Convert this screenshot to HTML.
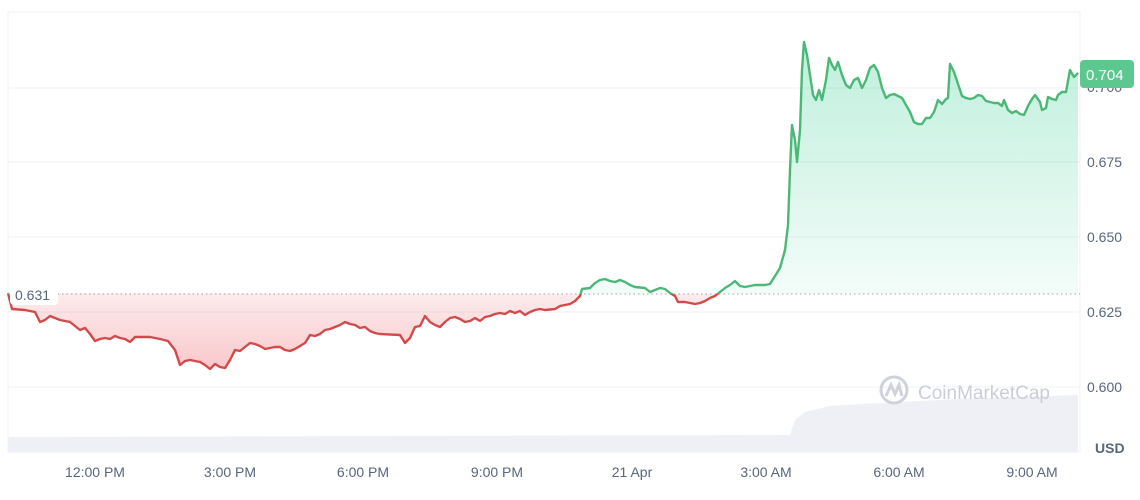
<!DOCTYPE html><html><head><style>body{margin:0;background:#fff;font-family:"Liberation Sans",sans-serif}</style></head><body>
<svg width="1140" height="495" xmlns="http://www.w3.org/2000/svg" font-family="Liberation Sans, sans-serif">
<defs>
<linearGradient id="gg" x1="0" y1="40" x2="0" y2="294" gradientUnits="userSpaceOnUse"><stop offset="0" stop-color="#16c784" stop-opacity="0.28"/><stop offset="1" stop-color="#16c784" stop-opacity="0.05"/></linearGradient>
<linearGradient id="rg" x1="0" y1="294" x2="0" y2="370" gradientUnits="userSpaceOnUse"><stop offset="0" stop-color="#ea3943" stop-opacity="0.1"/><stop offset="1" stop-color="#ea3943" stop-opacity="0.28"/></linearGradient>
<clipPath id="upl"><rect x="0" y="0" width="1080" height="294"/></clipPath>
<clipPath id="dn"><rect x="0" y="294" width="1080" height="200"/></clipPath>
<path id="p" d="M8,293 L12,309 L25,310 L35,312 L40,322 L45,320 L50,316 L55,318 L60,320 L65,321 L70,322 L75,326 L80,330 L85,328 L90,334 L95,341 L100,339 L105,338 L110,339 L115,336 L120,338 L125,339 L130,342 L135,337 L150,337 L155,338 L160,339 L168,341 L175,350 L180,365 L185,361 L190,360 L195,361 L200,362 L205,365 L210,369 L215,364 L220,367 L225,368 L230,360 L235,350 L240,351 L245,347 L250,343 L255,344 L260,346 L265,349 L275,347 L280,347 L285,350 L290,351 L295,349 L300,346 L305,343 L310,335 L315,336 L320,334 L325,330 L330,329 L335,327 L340,325 L345,322 L350,324 L355,325 L360,328 L365,327 L370,331 L375,333 L380,334 L400,335 L405,343 L410,338 L415,327 L420,326 L425,316 L430,322 L435,325 L440,327 L445,322 L450,318 L455,317 L460,319 L465,322 L470,321 L475,318 L480,321 L485,317 L490,316 L495,314 L500,313 L505,314 L510,311 L515,313 L520,311 L525,315 L530,312 L535,310 L540,309 L545,310 L555,309 L560,306 L565,305 L570,304 L575,301 L580,296 L582,289 L590,288 L595,283 L600,280 L605,279 L610,281 L615,282 L620,280 L625,282 L630,285 L635,287 L645,288 L650,292 L655,290 L660,288 L665,289 L670,293 L675,296 L678,302 L685,302 L690,303 L695,304 L700,303 L705,301 L710,298 L715,296 L720,292 L725,288 L730,285 L735,281 L740,286 L745,287 L755,285 L765,285 L770,284 L775,276 L780,268 L785,250 L788,225 L790,170 L792,125 L795,140 L797,162 L800,130 L802,70 L804,42 L807,55 L810,75 L813,95 L816,100 L819,90 L822,100 L826,80 L829,58 L832,65 L835,70 L838,62 L842,75 L846,85 L850,88 L854,80 L858,78 L862,88 L866,80 L870,68 L874,65 L878,72 L882,88 L886,98 L890,95 L894,94 L898,96 L902,98 L906,105 L910,112 L914,122 L918,124 L922,124 L926,118 L930,118 L934,112 L938,100 L942,104 L946,99 L948,98 L950,64 L954,72 L958,84 L962,96 L966,98 L970,99 L974,98 L978,95 L982,96 L986,101 L994,103 L998,103 L1002,106 L1004,100 L1008,110 L1012,113 L1016,111 L1020,114 L1024,115 L1028,106 L1032,99 L1035,95 L1040,102 L1042,110 L1046,108 L1048,97 L1052,99 L1056,100 L1058,95 L1062,92 L1066,92 L1070,70 L1074,77 L1078,73" fill="none" stroke-width="2.4" stroke-linejoin="round"/>
</defs>
<g stroke="#eff0f3" stroke-width="1">
<line x1="8" y1="12" x2="1080" y2="12"/><line x1="8" y1="88" x2="1080" y2="88"/><line x1="8" y1="162" x2="1080" y2="162"/><line x1="8" y1="237" x2="1080" y2="237"/><line x1="8" y1="312" x2="1080" y2="312"/><line x1="8" y1="387" x2="1080" y2="387"/>
<line x1="8" y1="12" x2="8" y2="452"/><line x1="1080" y1="12" x2="1080" y2="452"/><line x1="8" y1="452" x2="1080" y2="452"/></g>
<path d="M582,289 L590,288 L595,283 L600,280 L605,279 L610,281 L615,282 L620,280 L625,282 L630,285 L635,287 L645,288 L650,292 L655,290 L660,288 L665,289 L670,293 L675,296 L718,294 L720,292 L725,288 L730,285 L735,281 L740,286 L745,287 L755,285 L765,285 L770,284 L775,276 L780,268 L785,250 L788,225 L790,170 L792,125 L795,140 L797,162 L800,130 L802,70 L804,42 L807,55 L810,75 L813,95 L816,100 L819,90 L822,100 L826,80 L829,58 L832,65 L835,70 L838,62 L842,75 L846,85 L850,88 L854,80 L858,78 L862,88 L866,80 L870,68 L874,65 L878,72 L882,88 L886,98 L890,95 L894,94 L898,96 L902,98 L906,105 L910,112 L914,122 L918,124 L922,124 L926,118 L930,118 L934,112 L938,100 L942,104 L946,99 L948,98 L950,64 L954,72 L958,84 L962,96 L966,98 L970,99 L974,98 L978,95 L982,96 L986,101 L994,103 L998,103 L1002,106 L1004,100 L1008,110 L1012,113 L1016,111 L1020,114 L1024,115 L1028,106 L1032,99 L1035,95 L1040,102 L1042,110 L1046,108 L1048,97 L1052,99 L1056,100 L1058,95 L1062,92 L1066,92 L1070,70 L1074,77 L1078,73 L1078,294 L580,294 Z" fill="url(#gg)" clip-path="url(#upl)"/>
<path d="M8,293 L12,309 L25,310 L35,312 L40,322 L45,320 L50,316 L55,318 L60,320 L65,321 L70,322 L75,326 L80,330 L85,328 L90,334 L95,341 L100,339 L105,338 L110,339 L115,336 L120,338 L125,339 L130,342 L135,337 L150,337 L155,338 L160,339 L168,341 L175,350 L180,365 L185,361 L190,360 L195,361 L200,362 L205,365 L210,369 L215,364 L220,367 L225,368 L230,360 L235,350 L240,351 L245,347 L250,343 L255,344 L260,346 L265,349 L275,347 L280,347 L285,350 L290,351 L295,349 L300,346 L305,343 L310,335 L315,336 L320,334 L325,330 L330,329 L335,327 L340,325 L345,322 L350,324 L355,325 L360,328 L365,327 L370,331 L375,333 L380,334 L400,335 L405,343 L410,338 L415,327 L420,326 L425,316 L430,322 L435,325 L440,327 L445,322 L450,318 L455,317 L460,319 L465,322 L470,321 L475,318 L480,321 L485,317 L490,316 L495,314 L500,313 L505,314 L510,311 L515,313 L520,311 L525,315 L530,312 L535,310 L540,309 L545,310 L555,309 L560,306 L565,305 L570,304 L575,301 L580,296 L582,294 Z M675,294 L678,302 L685,302 L690,303 L695,304 L700,303 L705,301 L710,298 L715,296 L718,294 Z" fill="url(#rg)"/>
<path d="M8,437 L790,435 L795,420 L805,412 L830,406 L880,403 L960,399 L1078,395 L1078,452 L8,452Z" fill="#eceef4" opacity="0.9"/>
<g transform="translate(880,376)" stroke="#cfd2da" stroke-width="3" fill="none"><circle cx="14" cy="14" r="13"/><path d="M6,20 L11,9 L15,18 L19,9 L22,20"/></g>
<text x="918" y="399" font-size="19" fill="#cbced7">CoinMarketCap</text>
<line x1="8" y1="294" x2="1080" y2="294" stroke="#a0a4ad" stroke-dasharray="1.5,3"/>
<use href="#p" stroke="#4cb877" clip-path="url(#upl)"/>
<use href="#p" stroke="#d24a4a" clip-path="url(#dn)"/>
<rect x="10" y="284" width="48" height="21" rx="4" fill="#fff"/>
<text x="15" y="300" font-size="14" fill="#58667e">0.631</text>
<g font-size="14" fill="#58667e">
<text x="1087" y="92">0.700</text><text x="1087" y="167">0.675</text><text x="1087" y="242">0.650</text><text x="1087" y="317">0.625</text><text x="1087" y="392">0.600</text>
<text x="1095" y="453" font-weight="bold">USD</text>
</g>
<rect x="1080" y="60" width="54" height="28" rx="4" fill="#5cc88f"/>
<text x="1086" y="80" font-size="15" fill="#fff">0.704</text>
<g font-size="14" fill="#58667e" text-anchor="middle">
<text x="95" y="477">12:00 PM</text><text x="230" y="477">3:00 PM</text><text x="363" y="477">6:00 PM</text><text x="497" y="477">9:00 PM</text><text x="632" y="477">21 Apr</text><text x="766" y="477">3:00 AM</text><text x="899" y="477">6:00 AM</text><text x="1032" y="477">9:00 AM</text>
</g>
</svg></body></html>
